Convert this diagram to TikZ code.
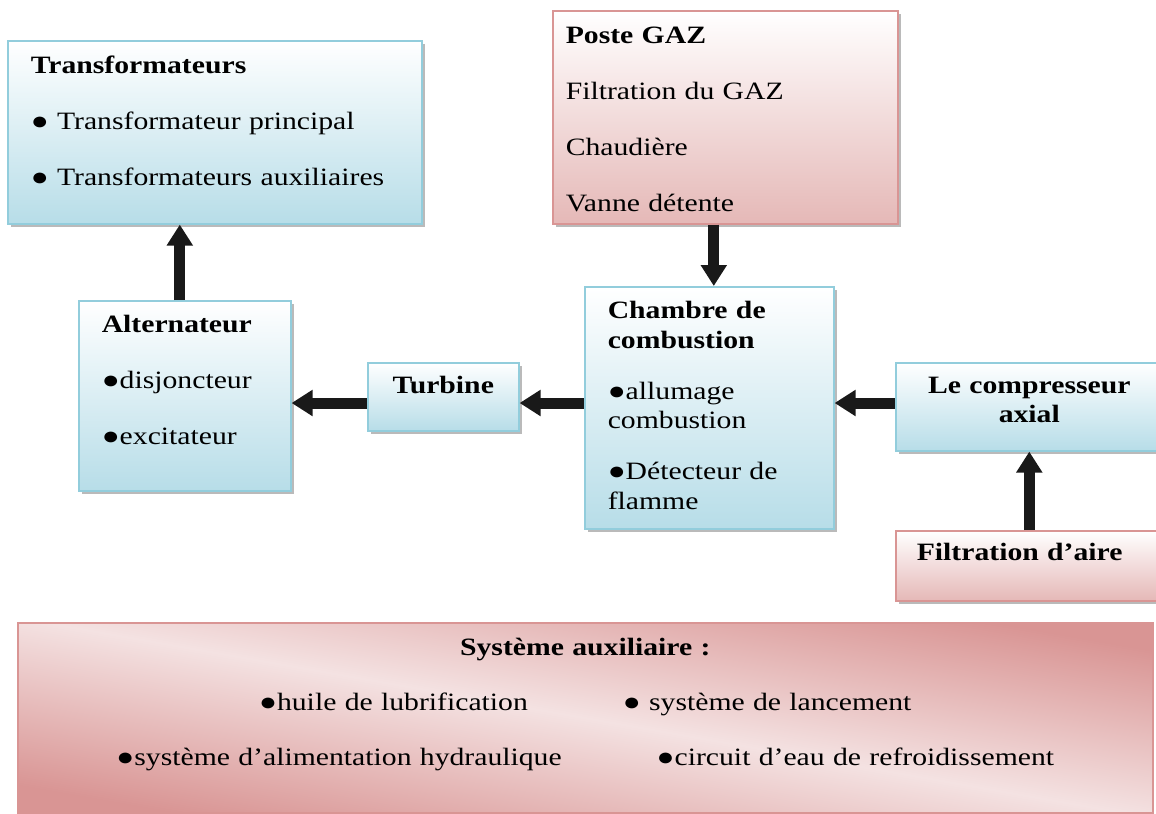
\documentclass[tikz,border=0pt]{standalone}
\usepackage{fontspec}
\setmainfont{Liberation Serif}[FakeStretch=1.19]
\usepackage{tikz}
\usetikzlibrary{arrows.meta,shadows}

\definecolor{bleubord}{RGB}{146,205,220}
\definecolor{bleufond}{RGB}{183,221,232}
\definecolor{rosebord}{RGB}{217,149,148}
\definecolor{rosefond}{RGB}{229,184,183}
\definecolor{roseclair}{RGB}{244,226,226}
\pgfdeclareverticalshading{rosediag}{100bp}{color(0bp)=(rosebord); color(25bp)=(rosebord);
  color(50bp)=(roseclair); color(75bp)=(rosebord); color(100bp)=(rosebord)}

\begin{document}
\begin{tikzpicture}[
    bloc/.style={anchor=north west, line width=0.9pt, inner ysep=0pt, align=left,
      drop shadow={shadow xshift=0.07cm, shadow yshift=-0.07cm, fill=black!45, opacity=0.6},
      font=\fontsize{14.2}{31.9}\selectfont},
    bleu/.style={bloc, draw=bleubord, top color=white, bottom color=bleufond},
    rose/.style={bloc, draw=rosebord, top color=white, bottom color=rosefond},
    systeme/.style={anchor=north west, line width=0.9pt, inner ysep=0pt, align=center,
      draw=rosebord, shading=rosediag, shading angle=-10,
      font=\fontsize{14.2}{31.3}\selectfont},
    fleche/.style={line width=0.22cm, draw=black!90, -{Triangle[length=0.42cm,width=0.5cm]}}]
  \useasboundingbox (0,0) rectangle (23.12,-16.28);

  % blocs
  \node[bleu, minimum width=8.28cm, inner xsep=0.46cm, text width=7.36cm,
        text height=0.66cm, text depth=3.0cm] (trans) at (0.14,-0.80)
    {\textbf{Transformateurs}\\● Transformateur principal\\● Transformateurs auxiliaires};
  \node[rose, minimum width=6.9cm, inner xsep=0.26cm, text width=6.38cm,
        text height=0.66cm, text depth=3.6cm] (poste) at (11.04,-0.20)
    {\textbf{Poste GAZ}\\Filtration du GAZ\\Chaudière\\Vanne détente};
  \node[bleu, minimum width=4.24cm, inner xsep=0.46cm, text width=3.32cm,
        text height=0.64cm, text depth=3.16cm] (alt) at (1.56,-6.00)
    {\textbf{Alternateur}\\●disjoncteur\\●excitateur};
  \node[bleu, align=center, minimum width=3.02cm, inner xsep=0.1cm, text width=2.82cm,
        text height=0.62cm, text depth=0.74cm] (turb) at (7.34,-7.24)
    {\textbf{Turbine}};
  \node[bleu, minimum width=4.98cm, inner xsep=0.46cm, text width=4.06cm,
        text height=0.64cm, text depth=4.2cm, font=\fontsize{14.2}{16.8}\selectfont] (chambre) at (11.68,-5.72)
    {\textbf{Chambre de}\\\textbf{combustion}\\[12.2pt]●allumage\\combustion\\[12.2pt]●Détecteur de\\flamme};
  \node[bleu, align=center, minimum width=5.34cm, inner xsep=0.2cm, text width=4.94cm,
        text height=0.62cm, text depth=1.14cm, font=\fontsize{14.2}{16.4}\selectfont] (comp) at (17.9,-7.24)
    {\textbf{Le compresseur}\\\textbf{axial}};
  \node[rose, minimum width=5.34cm, inner xsep=0.42cm, text width=4.5cm,
        text height=0.6cm, text depth=0.8cm] (filtre) at (17.9,-10.6)
    {\textbf{Filtration d’aire}};
  \node[systeme, minimum width=22.7cm, inner xsep=0.2cm, text width=22.3cm,
        text height=0.66cm, text depth=3.14cm] (aux) at (0.34,-12.44)
    {\textbf{Système auxiliaire :}\\
     ●huile de lubrification\hspace{1.9cm}● système de lancement\\
     ●système d’alimentation hydraulique\hspace{1.9cm}●circuit d’eau de refroidissement};

  % fleches
  \coordinate (axe) at (0,-8.06);
  \coordinate (pied) at ([xshift=-0.1cm]alt.north);
  \coordinate (entree) at ([xshift=0.09cm]chambre.north);
  \draw[fleche] (pied) -- (pied |- trans.south);
  \draw[fleche] (entree |- poste.south) -- (entree);
  \draw[fleche] (chambre.west |- axe) -- (turb.east |- axe);
  \draw[fleche] (turb.west |- axe) -- (alt.east |- axe);
  \draw[fleche] (comp.west |- axe) -- (chambre.east |- axe);
  \draw[fleche] (filtre.north) -- (comp.south);
\end{tikzpicture}
\end{document}
